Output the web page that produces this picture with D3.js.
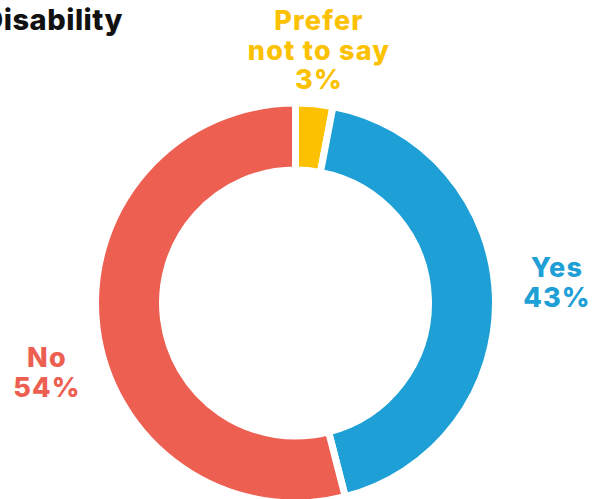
<!DOCTYPE html>
<html>
<head>
<meta charset="utf-8">
<script src="https://cdn.jsdelivr.net/npm/d3@7/dist/d3.min.js"></script>
<style>
  html, body { margin: 0; padding: 0; background: #fff; }
  svg { display: block; }
  text { font-family: Inter, "Noto Sans", sans-serif; font-weight: 800; }
</style>
</head>
<body>
<svg id="chart" width="605" height="499"></svg>
<script>
// Survey answers, clockwise from twelve o'clock
const categories = ["Prefer not to say", "Yes", "No"];
const values = [3, 43, 54];
const colors = ["#FCC100", "#1E9FD5", "#EC5F51"];
const labelLines = [["Prefer", "not to say", "3%"], ["Yes", "43%"], ["No", "54%"]];
const title = "Disability";

const svg = d3.select("#chart");
const cx = 295.5, cy = 303, outerR = 200, innerR = 133;

const pie = d3.pie().sort(null).value(d => d.value);
const arc = d3.arc().innerRadius(innerR).outerRadius(outerR);
const color = d3.scaleOrdinal().domain(categories).range(colors);

const data = categories.map((c, i) => ({ category: c, value: values[i] }));
const arcs = pie(data);

const g = svg.append("g").attr("transform", `translate(${cx},${cy})`);
g.selectAll("path")
  .data(arcs)
  .join("path")
  .attr("d", arc)
  .attr("fill", d => color(d.data.category))
  .attr("stroke", "#fff")
  .attr("stroke-width", 7)
  .attr("stroke-linejoin", "miter");

// Title, partly running off the left edge
svg.append("text")
  .attr("x", 123).attr("y", 30)
  .attr("text-anchor", "end")
  .attr("font-size", 29)
  .attr("letter-spacing", 0.5)
  .attr("fill", "#111")
  .text(title);

// Outside labels
const labelPos = [
  { x: 319, y: 30 },
  { x: 557, y: 277 },
  { x: 47, y: 367 }
];
const lineH = 29.5;
labelLines.forEach((lines, i) => {
  const t = svg.append("text")
    .attr("text-anchor", "middle")
    .attr("font-size", 27)
    .attr("letter-spacing", 1.2)
    .attr("fill", colors[i]);
  lines.forEach((ln, j) => {
    t.append("tspan")
      .attr("x", labelPos[i].x)
      .attr("y", labelPos[i].y + j * lineH)
      .text(ln);
  });
});
</script>
</body>
</html>
